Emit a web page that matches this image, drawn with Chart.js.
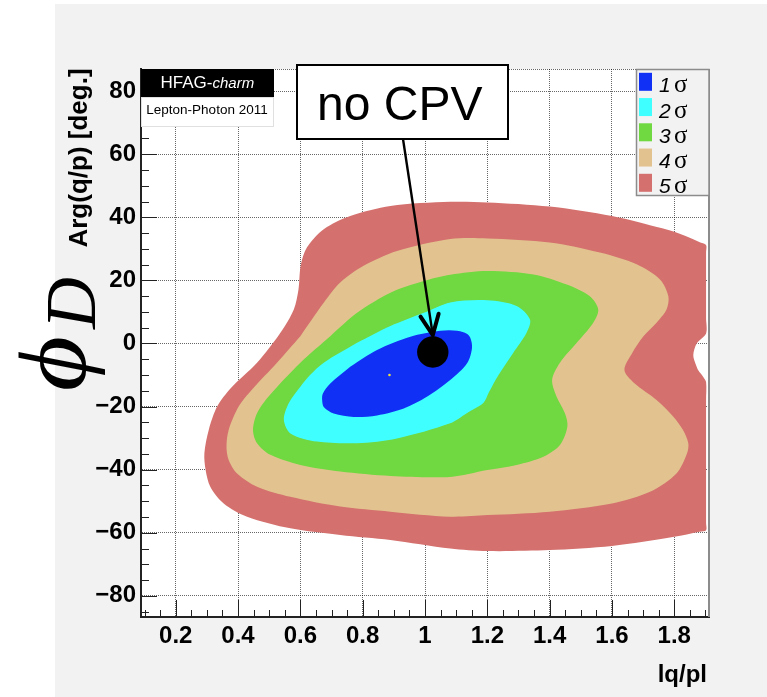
<!DOCTYPE html>
<html>
<head>
<meta charset="utf-8">
<script src="https://cdn.jsdelivr.net/npm/chart.js@4.4.0/dist/chart.umd.min.js"></script>
<style>
  html, body { margin: 0; padding: 0; background: #fff; }
  canvas { display: block; }
</style>
</head>
<body>
<canvas id="qpChart" width="767" height="697"></canvas>
<script>
// |q/p| vs Arg(q/p): fit contours for 1..5 sigma
const sigmaLevels = ['1', '2', '3', '4', '5'];

const xRange = [0.0886, 1.9114];
const yRange = [-86.7, 87.0];
const xTickValues = [0.2, 0.4, 0.6, 0.8, 1.0, 1.2, 1.4, 1.6, 1.8];
const xTickLabels = ['0.2', '0.4', '0.6', '0.8', '1', '1.2', '1.4', '1.6', '1.8'];
const yTickValues = [-80, -60, -40, -20, 0, 20, 40, 60, 80];
const yTickLabels = ['\u221280', '\u221260', '\u221240', '\u221220', '0', '20', '40', '60', '80'];

// contour outlines as [|q/p|, Arg(q/p) deg], each closed on its first point
const contour1 = [
  [0.760, -7.4], [0.846, -2.1], [0.953, 2.1], [1.049, 4.0], [1.103, 4.0],
  [1.140, 2.6], [1.151, -1.1], [1.135, -6.3], [1.081, -11.6], [1.006, -16.9],
  [0.932, -20.6], [0.846, -22.8], [0.771, -23.3], [0.707, -22.2], [0.675, -20.1],
  [0.670, -18.0], [0.672, -15.9], [0.696, -12.7], [0.760, -7.4]
];
const contour2 = [
  [0.782, 0.2], [0.889, 5.5], [0.996, 9.7], [1.081, 13.0], [1.200, 13.7],
  [1.294, 11.9], [1.337, 7.6], [1.326, 3.4], [1.283, -3.0], [1.236, -10.0],
  [1.205, -15.5], [1.187, -18.9], [1.134, -22.1], [1.081, -25.3], [0.910, -30.1],
  [0.782, -31.6], [0.653, -31.1], [0.568, -28.5], [0.547, -24.2], [0.563, -18.9],
  [0.600, -13.7], [0.631, -10.0], [0.675, -6.1], [0.782, 0.2]
];
const contour3 = [
  [0.696, 2.3], [0.782, 9.7], [0.889, 16.1], [0.996, 19.8], [1.081, 21.8],
  [1.200, 23.0], [1.348, 21.9], [1.455, 18.7], [1.529, 15.0], [1.556, 10.8],
  [1.540, 6.6], [1.487, 0.2], [1.433, -6.1], [1.408, -11.5], [1.422, -16.8],
  [1.449, -22.1], [1.457, -26.3], [1.433, -32.2], [1.380, -35.9], [1.294, -38.5],
  [1.200, -40.1], [1.080, -42.3], [0.889, -42.0], [0.728, -40.6], [0.600, -38.5],
  [0.504, -35.3], [0.461, -31.6], [0.448, -27.4], [0.461, -22.1], [0.498, -16.8],
  [0.600, -6.1], [0.696, 2.3]
];
const contour4 = [
  [0.600, 2.3], [0.675, 12.9], [0.728, 19.3], [0.803, 24.6], [0.910, 29.3],
  [1.081, 33.1], [1.200, 33.3], [1.400, 32.0], [1.561, 28.8], [1.679, 25.1],
  [1.754, 20.3], [1.781, 15.0], [1.775, 10.8], [1.743, 6.6], [1.701, 2.3],
  [1.665, -3.0], [1.640, -8.4], [1.672, -12.6], [1.743, -17.9], [1.797, -23.2],
  [1.828, -27.4], [1.845, -31.6], [1.841, -34.8], [1.807, -41.2], [1.722, -47.0],
  [1.600, -50.7], [1.400, -53.3], [1.200, -54.4], [1.080, -54.9], [0.889, -53.3],
  [0.728, -51.7], [0.568, -48.6], [0.461, -45.4], [0.397, -41.2], [0.370, -36.9],
  [0.363, -32.7], [0.370, -27.4], [0.402, -20.0], [0.445, -14.6], [0.525, -6.1],
  [0.600, 2.3]
];
const contour5 = [
  [1.902, 8.0], [1.902, 3.2], [1.872, 0.0], [1.861, -3.7], [1.870, -6.9],
  [1.877, -8.5], [1.893, -10.6], [1.902, -12.2], [1.902, -18.0], [1.902, -50.0],
  [1.902, -57.0], [1.902, -59.2], [1.880, -59.7], [1.800, -61.3], [1.600, -64.2],
  [1.400, -65.5], [1.200, -65.8], [1.081, -65.0], [0.889, -62.3], [0.728, -60.7],
  [0.568, -58.6], [0.429, -54.9], [0.354, -50.7], [0.311, -45.4], [0.296, -40.1],
  [0.292, -34.8], [0.306, -27.4], [0.333, -20.0], [0.378, -14.0], [0.461, -6.1],
  [0.536, 3.4], [0.579, 10.8], [0.594, 17.1], [0.601, 24.6], [0.621, 30.4],
  [0.675, 36.2], [0.760, 40.4], [0.889, 43.6], [1.081, 44.9], [1.200, 44.7],
  [1.400, 43.4], [1.600, 40.4], [1.722, 37.5], [1.800, 35.4], [1.880, 32.2],
  [1.902, 31.2], [1.902, 29.0], [1.902, 25.0], [1.902, 8.0]
];
const contours = [contour1, contour2, contour3, contour4, contour5];

const noCPV = [[1.025, -2.7]];
const bestFit = [[0.886, -10.0]];

const sigmaColours = ['#1030f5', '#40ffff', '#70d840', '#e2c38f', '#d4716e'];
const sans = "'Liberation Sans', Arial, Helvetica, sans-serif";
const serif = "'Liberation Serif', 'DejaVu Serif', serif";

const toPoints = arr => arr.map(([x, y]) => ({ x, y }));

const contourSets = contours.map((c, i) => ({
  label: sigmaLevels[i] + ' \u03c3',
  data: toPoints(c),
  showLine: true,
  fill: 'shape',
  backgroundColor: sigmaColours[i],
  borderColor: sigmaColours[i],
  borderWidth: 0,
  pointRadius: 0,
  tension: 0.3,
  order: i + 1
}));

const markerSets = [
  { label: 'no CPV', data: toPoints(noCPV), pointRadius: 15.7, pointBackgroundColor: '#000', pointBorderWidth: 0, order: 0 },
  { label: 'best fit', data: toPoints(bestFit), pointRadius: 1.3, pointBackgroundColor: '#f2e23a', pointBorderWidth: 0, order: 0 }
];

// rotated text squeezed into a given ink box (reads bottom to top)
function drawRotatedInk(ctx, text, font, x0, x1, y0, y1) {
  ctx.save();
  ctx.font = font;
  const m = ctx.measureText(text);
  const w = m.actualBoundingBoxLeft + m.actualBoundingBoxRight;
  const h = m.actualBoundingBoxAscent + m.actualBoundingBoxDescent;
  ctx.translate(x0, y1);
  ctx.rotate(-Math.PI / 2);
  ctx.scale((y1 - y0) / w, (x1 - x0) / h);
  ctx.fillStyle = '#000';
  ctx.fillText(text, m.actualBoundingBoxLeft, m.actualBoundingBoxAscent);
  ctx.restore();
}

const decorations = {
  id: 'decorations',
  beforeDraw(chart) {
    const { ctx, chartArea: a } = chart;
    ctx.save();
    ctx.fillStyle = '#fff';
    ctx.fillRect(0, 0, chart.width, chart.height);
    ctx.fillStyle = '#f2f2f2';
    ctx.fillRect(55, 4, chart.width - 55, chart.height - 4);
    ctx.fillStyle = '#fff';
    ctx.fillRect(a.left, a.top, a.right - a.left, a.bottom - a.top);
    ctx.restore();
  },
  afterDraw(chart) {
    const { ctx, chartArea: a } = chart;
    const xs = chart.scales.x, ys = chart.scales.y;
    ctx.save();

    // frame: dotted top, grey right side
    ctx.strokeStyle = 'rgba(0,0,0,0.6)';
    ctx.lineWidth = 1;
    ctx.setLineDash([1, 1]);
    ctx.beginPath();
    ctx.moveTo(a.left, a.top + 0.5);
    ctx.lineTo(a.right, a.top + 0.5);
    ctx.stroke();
    ctx.setLineDash([]);
    ctx.strokeStyle = '#8c8c8c';
    ctx.lineWidth = 2;
    ctx.beginPath();
    ctx.moveTo(a.right, a.top);
    ctx.lineTo(a.right, a.bottom);
    ctx.stroke();

    // inner tick marks
    ctx.strokeStyle = '#222';
    ctx.lineWidth = 1;
    ctx.beginPath();
    for (let v = -85; v <= 85; v += 5) {
      const py = Math.round(ys.getPixelForValue(v)) + 0.5;
      const len = v % 20 === 0 ? 16 : 8;
      ctx.moveTo(a.left, py);
      ctx.lineTo(a.left + len, py);
    }
    for (let k = 2; k <= 38; k++) {
      const px = Math.round(xs.getPixelForValue(k * 0.05)) + 0.5;
      const len = k % 4 === 0 ? 17 : 7;
      ctx.moveTo(px, a.bottom);
      ctx.lineTo(px, a.bottom - len);
    }
    ctx.stroke();

    // HFAG label
    ctx.fillStyle = '#000';
    ctx.fillRect(141, 69, 133, 28);
    ctx.fillStyle = '#fff';
    ctx.fillRect(141, 97, 133, 30);
    ctx.strokeStyle = '#e0e0e0';
    ctx.lineWidth = 1;
    ctx.strokeRect(141.5, 97.5, 132, 29);
    ctx.fillStyle = '#fff';
    ctx.font = '17px ' + sans;
    ctx.textBaseline = 'alphabetic';
    ctx.fillText('HFAG-', 160.5, 88.3);
    const hw = ctx.measureText('HFAG-').width;
    ctx.font = 'italic 15px ' + sans;
    ctx.fillText('charm', 160.5 + hw, 88.3);
    ctx.fillStyle = '#000';
    ctx.font = '13.5px ' + sans;
    ctx.textAlign = 'center';
    ctx.fillText('Lepton-Photon 2011', 207, 113.5);
    ctx.textAlign = 'left';

    // legend
    ctx.fillStyle = '#f2f2f2';
    ctx.fillRect(636, 69, 73, 127);
    ctx.strokeStyle = '#8c8c8c';
    ctx.lineWidth = 1.5;
    ctx.strokeRect(636.5, 69.5, 72.5, 126);
    chart.data.datasets.filter(d => d.fill === 'shape').forEach((d, i) => {
      const base = 92.3 + i * 25.25;
      ctx.fillStyle = d.backgroundColor;
      ctx.fillRect(639, base - 19.5, 13, 18);
      ctx.fillStyle = '#000';
      ctx.font = 'italic 21px ' + sans;
      ctx.fillText(sigmaLevels[i], 659, base);
      ctx.font = '25px ' + serif;
      ctx.fillText('\u03c3', 674, base);
    });

    // "no CPV" callout with arrow to the marker
    ctx.fillStyle = '#fff';
    ctx.fillRect(297, 65, 211, 74);
    ctx.strokeStyle = '#000';
    ctx.lineWidth = 2;
    ctx.strokeRect(297, 65, 211, 74);
    ctx.fillStyle = '#000';
    ctx.font = '48px ' + sans;
    ctx.fillText('no CPV', 317, 120);

    const tipX = xs.getPixelForValue(noCPV[0][0]);
    const tipY = ys.getPixelForValue(noCPV[0][1]) - 17;
    const sx = 403, sy = 139;
    ctx.lineWidth = 2.4;
    ctx.beginPath();
    ctx.moveTo(sx, sy);
    ctx.lineTo(tipX, tipY);
    ctx.stroke();
    const ang = Math.atan2(tipY - sy, tipX - sx);
    ctx.lineWidth = 4;
    ctx.lineCap = 'round';
    ctx.beginPath();
    ctx.moveTo(tipX - 22 * Math.cos(ang - 0.44), tipY - 22 * Math.sin(ang - 0.44));
    ctx.lineTo(tipX, tipY);
    ctx.lineTo(tipX - 22 * Math.cos(ang + 0.42), tipY - 22 * Math.sin(ang + 0.42));
    ctx.stroke();

    // axis titles
    ctx.fillStyle = '#000';
    ctx.font = 'bold 24px ' + sans;
    ctx.textAlign = 'right';
    ctx.fillText('lq/pl', 707, 682);
    ctx.save();
    ctx.translate(87, 158);
    ctx.rotate(-Math.PI / 2);
    ctx.textAlign = 'center';
    ctx.font = 'bold 26px ' + sans;
    ctx.fillText('Arg(q/p) [deg.]', 0, 0);
    ctx.restore();

    drawRotatedInk(ctx, '\u03d5', 'italic 80px ' + serif, 18, 105, 338, 390);
    drawRotatedInk(ctx, 'D', 'italic 80px ' + serif, 48, 95, 278, 330);

    ctx.restore();
  }
};

new Chart(document.getElementById('qpChart'), {
  type: 'scatter',
  data: { datasets: [...markerSets, ...contourSets] },
  options: {
    responsive: false,
    animation: false,
    events: [],
    layout: { padding: { top: 69, right: 58, left: 0, bottom: 0 } },
    plugins: {
      legend: { display: false },
      tooltip: { enabled: false },
      filler: { drawTime: 'beforeDatasetDraw' }
    },
    scales: {
      x: {
        type: 'linear',
        min: xRange[0],
        max: xRange[1],
        z: 1,
        afterBuildTicks: s => { s.ticks = xTickValues.map(v => ({ value: v })); },
        afterFit: s => { s.height = 80; },
        grid: { color: 'rgba(0,0,0,0.6)', lineWidth: 1, drawTicks: false },
        border: { display: true, color: '#222', width: 2, dash: [1, 1] },
        ticks: {
          color: '#000',
          padding: 5,
          maxRotation: 0,
          autoSkip: false,
          font: { family: sans, size: 24, weight: 'bold' },
          callback: (v, i) => xTickLabels[i]
        }
      },
      y: {
        type: 'linear',
        min: yRange[0],
        max: yRange[1],
        z: 1,
        afterBuildTicks: s => { s.ticks = yTickValues.map(v => ({ value: v })); },
        afterFit: s => { s.width = 141; },
        grid: { color: 'rgba(0,0,0,0.6)', lineWidth: 1, drawTicks: false },
        border: { display: true, color: '#222', width: 2, dash: [1, 1] },
        ticks: {
          color: '#000',
          padding: 5,
          autoSkip: false,
          font: { family: sans, size: 24, weight: 'bold' },
          callback: (v, i) => yTickLabels[i]
        }
      }
    }
  },
  plugins: [decorations]
});
</script>
</body>
</html>
